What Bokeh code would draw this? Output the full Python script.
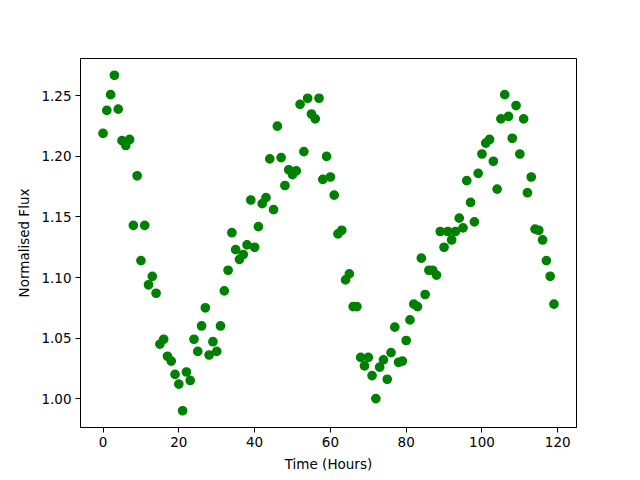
from bokeh.plotting import figure
from bokeh.models import FixedTicker, PrintfTickFormatter, Range1d
from bokeh.embed import file_html
from bokeh.resources import INLINE

hours = list(range(120))
flux = [
    1.219, 1.238, 1.251, 1.267, 1.239, 1.213, 1.209, 1.214, 1.143, 1.184,
    1.114, 1.143, 1.094, 1.101, 1.087, 1.045, 1.049, 1.035, 1.031, 1.020,
    1.012, 0.990, 1.022, 1.015, 1.049, 1.039, 1.060, 1.075, 1.036, 1.047,
    1.039, 1.060, 1.089, 1.106, 1.137, 1.123, 1.115, 1.119, 1.127, 1.164,
    1.125, 1.142, 1.161, 1.166, 1.198, 1.156, 1.225, 1.199, 1.176, 1.189,
    1.185, 1.188, 1.243, 1.204, 1.248, 1.235, 1.231, 1.248, 1.181, 1.200,
    1.183, 1.168, 1.136, 1.139, 1.098, 1.103, 1.076, 1.076, 1.034, 1.027,
    1.034, 1.019, 1.000, 1.026, 1.032, 1.016, 1.038, 1.059, 1.030, 1.031,
    1.048, 1.065, 1.078, 1.076, 1.116, 1.086, 1.106, 1.106, 1.102, 1.138,
    1.125, 1.138, 1.131, 1.138, 1.149, 1.141, 1.180, 1.162, 1.146, 1.186,
    1.202, 1.211, 1.214, 1.196, 1.173, 1.231, 1.251, 1.233, 1.215, 1.242,
    1.202, 1.231, 1.170, 1.183, 1.140, 1.139, 1.131, 1.114, 1.101, 1.078,
]
x_ticks = [0, 20, 40, 60, 80, 100, 120]
y_ticks = [1.00, 1.05, 1.10, 1.15, 1.20, 1.25]

xmin, xmax = min(hours), max(hours)
ymin, ymax = min(flux), max(flux)
xpad = (xmax - xmin) * 0.05
ypad = (ymax - ymin) * 0.05

p = figure(
    output_backend="svg", toolbar_location=None,
    frame_width=496, frame_height=369,
    min_border_left=80, min_border_right=64,
    min_border_top=58, min_border_bottom=53,
    x_range=Range1d(xmin - xpad, xmax + xpad),
    y_range=Range1d(ymin - ypad, ymax + ypad),
)
p.scatter(hours, flux, size=8.3, fill_color="#008000", line_color="#008000", line_width=1.4)

p.xgrid.visible = False
p.ygrid.visible = False
p.outline_line_color = "black"
p.outline_line_width = 1

p.xaxis.ticker = FixedTicker(ticks=x_ticks)
p.yaxis.ticker = FixedTicker(ticks=y_ticks)
p.yaxis.formatter = PrintfTickFormatter(format="%.2f")
p.xaxis.axis_label = "Time (Hours)"
p.yaxis.axis_label = "Normalised Flux"

for ax in (p.xaxis[0], p.yaxis[0]):
    ax.axis_line_color = "black"
    ax.major_tick_line_color = "black"
    ax.major_tick_in = 0
    ax.major_tick_out = 5
    ax.minor_tick_line_color = None
    ax.major_label_text_font = "DejaVu Sans"
    ax.major_label_text_font_size = "13.5px"
    ax.major_label_text_color = "black"
    ax.axis_label_text_font = "DejaVu Sans"
    ax.axis_label_text_font_size = "13.5px"
    ax.axis_label_text_font_style = "normal"
    ax.axis_label_text_color = "black"
    ax.major_label_standoff = 4
    ax.axis_label_standoff = 6

open("out.html", "w").write(file_html(p, INLINE))
